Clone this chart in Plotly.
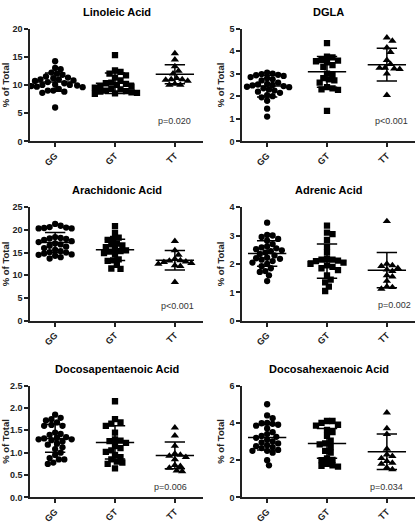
import numpy as np
import plotly.graph_objects as go

categories = ["GG", "GT", "TT"]
titles = ["Linoleic Acid", "DGLA", "Arachidonic Acid", "Adrenic Acid",
          "Docosapentaenoic Acid", "Docosahexaenoic Acid"]
y_max = [20, 5, 25, 4, 2.5, 6]
y_dtick = [5, 1, 5, 1, 0.5, 2]
p_labels = ["p=0.020", "p<0.001", "p<0.001", "p=0.002", "p=0.006", "p=0.034"]
p_x = [2.0, 2.08, 2.05, 2.13, 1.92, 2.0]
p_y = [3.65, 0.91, 3.2, 0.55, 0.24, 0.58]

linoleic_gg = [14.2, 13.0, 12.8, 12.2, 12.0, 11.8, 11.5, 11.3, 11.2, 11.0, 11.0, 10.8, 10.7, 10.5,
               10.3, 10.1, 10.0, 10.0, 9.9, 9.8, 9.7, 9.6, 9.3, 9.0, 9.0, 8.8, 8.6, 6.0]
linoleic_gt = [15.3, 12.6, 12.3, 12.0, 11.7, 11.3, 10.8, 10.4, 10.3, 10.2, 10.0, 9.8, 9.7, 9.5,
               9.3, 9.2, 9.0, 8.9, 8.8, 8.7, 8.6, 8.5, 8.4]
linoleic_tt = [15.6, 14.5, 13.3, 12.5, 12.0, 11.2, 11.0, 11.0, 10.9, 10.7, 10.2, 10.0, 10.0]
linoleic_mean = [10.5, 10.3, 11.9]
linoleic_sd = [1.6, 1.8, 1.7]

dgla_gg = [3.05, 3.0, 2.98, 2.95, 2.93, 2.9, 2.85, 2.8, 2.75, 2.7, 2.6, 2.55, 2.52, 2.5, 2.48,
           2.45, 2.42, 2.4, 2.35, 2.3, 2.25, 2.2, 2.15, 2.05, 2.0, 1.95, 1.8, 1.45, 1.1]
dgla_gt = [4.35, 3.75, 3.72, 3.6, 3.58, 3.55, 3.5, 3.38, 3.3, 3.0, 2.95, 2.8, 2.75, 2.7, 2.6,
           2.4, 2.35, 2.3, 2.28, 1.35]
dgla_tt = [4.6, 4.45, 4.15, 3.95, 3.6, 3.42, 3.25, 3.25, 3.22, 3.2, 3.0, 2.05]
dgla_mean = [2.45, 3.08, 3.4]
dgla_sd = [0.48, 0.68, 0.73]

arachidonic_gg = [21.3, 20.9, 20.6, 20.5, 20.4, 20.3, 20.3, 18.4, 18.2, 18.1, 18.0, 17.8, 17.5,
                  17.3, 17.0, 16.8, 16.5, 16.3, 16.0, 15.6, 15.3, 15.1, 15.0, 14.8, 14.6, 14.5,
                  14.3, 14.0, 13.7]
arachidonic_gt = [20.8, 19.3, 18.3, 18.0, 17.8, 17.0, 16.8, 16.6, 16.2, 15.8, 15.5, 15.3, 15.2,
                  14.9, 14.6, 13.5, 13.3, 13.2, 12.3, 11.5, 11.4]
arachidonic_tt = [17.5, 15.5, 14.5, 13.6, 13.3, 13.2, 13.0, 12.9, 12.7, 12.5, 12.2, 12.0, 8.5]
arachidonic_mean = [17.2, 15.6, 13.3]
arachidonic_sd = [2.2, 2.35, 2.15]

adrenic_gg = [3.45, 3.02, 3.0, 2.95, 2.88, 2.82, 2.7, 2.62, 2.58, 2.55, 2.52, 2.48, 2.45, 2.4,
              2.35, 2.3, 2.22, 2.2, 2.18, 2.15, 2.1, 2.05, 2.0, 1.92, 1.85, 1.75, 1.72, 1.6, 1.4]
adrenic_gt = [3.35, 3.1, 3.05, 2.85, 2.6, 2.4, 2.17, 2.15, 2.15, 2.12, 2.1, 2.05, 2.0, 1.95,
              1.9, 1.85, 1.78, 1.6, 1.45, 1.35, 1.2, 1.05]
adrenic_tt = [3.5, 2.0, 1.95, 1.92, 1.85, 1.8, 1.75, 1.6, 1.55, 1.4, 1.2, 1.18, 1.12]
adrenic_mean = [2.37, 2.1, 1.78]
adrenic_sd = [0.45, 0.6, 0.62]

dpa_gg = [1.85, 1.78, 1.75, 1.72, 1.68, 1.62, 1.6, 1.6, 1.45, 1.42, 1.4, 1.35, 1.33, 1.32,
          1.3, 1.3, 1.28, 1.25, 1.2, 1.18, 1.12, 1.08, 1.0, 0.95, 0.88, 0.85, 0.85, 0.78, 0.75]
dpa_gt = [2.15, 1.75, 1.68, 1.65, 1.6, 1.45, 1.3, 1.27, 1.26, 1.22, 1.15, 1.1, 1.05, 1.02,
          0.95, 0.9, 0.85, 0.8, 0.78, 0.75, 0.65]
dpa_tt = [1.56, 1.38, 1.15, 0.98, 0.95, 0.93, 0.9, 0.85, 0.72, 0.7, 0.66, 0.6, 0.58]
dpa_mean = [1.32, 1.23, 0.94]
dpa_sd = [0.31, 0.37, 0.3]

dha_gg = [5.0, 4.4, 4.25, 4.0, 3.98, 3.95, 3.9, 3.85, 3.7, 3.5, 3.4, 3.3, 3.25, 3.2, 3.1, 3.0,
          2.95, 2.9, 2.8, 2.75, 2.7, 2.65, 2.55, 2.5, 2.5, 2.4, 2.0, 1.72]
dha_gt = [4.1, 4.1, 4.0, 3.9, 3.85, 3.62, 3.5, 3.3, 3.05, 2.9, 2.85, 2.7, 2.5, 2.4, 2.1, 2.02,
          2.0, 1.8, 1.72, 1.7, 1.65]
dha_tt = [4.55, 3.7, 3.4, 2.6, 2.3, 2.22, 2.1, 1.95, 1.85, 1.8, 1.6, 1.5]
dha_mean = [3.22, 2.9, 2.45]
dha_sd = [0.68, 0.8, 0.95]

panels = [
    (linoleic_gg, linoleic_gt, linoleic_tt, linoleic_mean, linoleic_sd),
    (dgla_gg, dgla_gt, dgla_tt, dgla_mean, dgla_sd),
    (arachidonic_gg, arachidonic_gt, arachidonic_tt, arachidonic_mean, arachidonic_sd),
    (adrenic_gg, adrenic_gt, adrenic_tt, adrenic_mean, adrenic_sd),
    (dpa_gg, dpa_gt, dpa_tt, dpa_mean, dpa_sd),
    (dha_gg, dha_gt, dha_tt, dha_mean, dha_sd),
]

# ---- layout geometry (pixels) ----
W, H = 417, 524
col_x = [(30, 203), (242, 415)]
row_y = [(24, 139), (206, 322), (388, 502)]
X_RANGE = [-0.42, 2.47]
symbols = ["circle", "square", "triangle-up"]
FONT = "Liberation Sans, Arial, sans-serif"
MS = 6.3


def beeswarm(vals, ypx_per_unit, xpx_per_unit, d):
    vals = np.asarray(vals, dtype=float)
    order = np.argsort(-vals)
    placed = []  # (xpx, ypx)
    offs = np.zeros(len(vals))
    cands = [0.0]
    for k in range(1, 40):
        cands += [k * d / 3, -k * d / 3]
    for idx in order:
        yp = vals[idx] * ypx_per_unit
        for c in cands:
            ok = True
            for (px, py) in placed:
                if (px - c) ** 2 + (py - yp) ** 2 < d ** 2:
                    ok = False
                    break
            if ok:
                placed.append((c, yp))
                offs[idx] = c / xpx_per_unit
                break
    return offs


fig = go.Figure()
annotations = []
for p, (gg, gt, tt, mean, sd) in enumerate(panels):
    r, c = divmod(p, 2)
    x0, x1 = col_x[c]
    yt, yb = row_y[r]
    xname = "x" if p == 0 else f"x{p+1}"
    yname = "y" if p == 0 else f"y{p+1}"
    xpx = (x1 - x0) / (X_RANGE[1] - X_RANGE[0])
    ypx = (yb - yt) / y_max[p]
    for g, vals in enumerate([gg, gt, tt]):
        offs = beeswarm(vals, ypx, xpx, 5.5)
        fig.add_trace(go.Scatter(
            x=[g + o for o in offs], y=vals, mode="markers", xaxis=xname, yaxis=yname,
            marker=dict(symbol=symbols[g], size=MS if g != 2 else 7.3, color="black",
                        line=dict(width=0)),
            showlegend=False, hoverinfo="skip"))
        m, s = mean[g], sd[g]
        lx = [g - 0.32, g + 0.32, None, g - 0.17, g + 0.17, None, g, g, None, g - 0.17, g + 0.17]
        ly = [m, m, None, m + s, m + s, None, m + s, m - s, None, m - s, m - s]
        fig.add_trace(go.Scatter(x=lx, y=ly, mode="lines", xaxis=xname, yaxis=yname,
                                 line=dict(color="black", width=1.5),
                                 showlegend=False, hoverinfo="skip"))
    xa = dict(domain=[x0 / W, x1 / W], range=X_RANGE, anchor=yname,
              tickvals=[0, 1, 2], ticktext=categories, tickangle=-45,
              showline=True, linecolor="#222", linewidth=1.5, ticks="outside",
              ticklen=4, tickwidth=1.5, tickcolor="#222", showgrid=False, zeroline=False,
              tickfont=dict(family=FONT, size=9, color="#222", weight="bold"))
    ya = dict(domain=[1 - yb / H, 1 - yt / H], range=[0, y_max[p]], anchor=xname,
              dtick=y_dtick[p], showline=True, linecolor="#222", linewidth=1.5,
              ticks="outside", ticklen=4, tickwidth=1.5, tickcolor="#222",
              showgrid=False, zeroline=False,
              tickformat=".1f" if p == 4 else "d",
              tickfont=dict(family=FONT, size=9, color="#222", weight="bold"),
              title=dict(text="% of Total", standoff=3,
                         font=dict(family=FONT, size=9.5, color="#222", weight="bold")))
    fig.layout["xaxis" if p == 0 else f"xaxis{p+1}"] = xa
    fig.layout["yaxis" if p == 0 else f"yaxis{p+1}"] = ya
    annotations.append(dict(text=titles[p], xref="paper", yref="paper",
                            x=(x0 + x1) / 2 / W, y=1 - (yt - 17) / H, showarrow=False,
                            font=dict(family=FONT, size=11, color="black", weight="bold"),
                            xanchor="center", yanchor="middle"))
    annotations.append(dict(text=p_labels[p], xref=xname, yref=yname, x=p_x[p], y=p_y[p],
                            showarrow=False, xanchor="center", yanchor="middle",
                            font=dict(family=FONT, size=9, color="#333")))

fig.update_layout(width=W, height=H, margin=dict(l=0, r=0, t=0, b=0),
                  plot_bgcolor="white", paper_bgcolor="white", annotations=annotations)
fig.write_html("out.html", config={"displayModeBar": False},
               post_script="document.body.style.margin='0';document.body.style.overflow='hidden';")
